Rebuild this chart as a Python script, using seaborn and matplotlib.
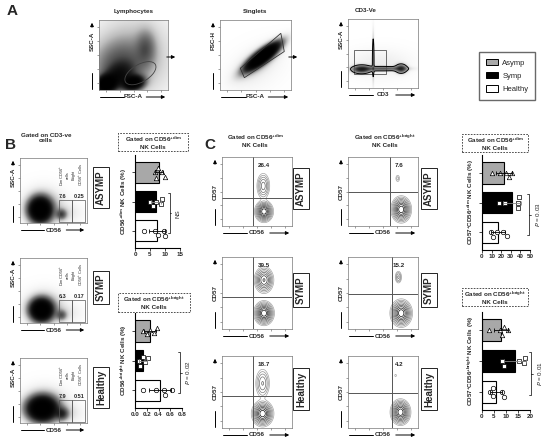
import numpy as np
import pandas as pd
import seaborn as sns
import matplotlib.pyplot as plt
import matplotlib.patches as mpatches
from matplotlib.lines import Line2D

sns.set_style("white")
plt.rcParams['font.family'] = ['Liberation Sans', 'DejaVu Sans']
plt.rcParams['mathtext.default'] = 'regular'

W, H = 550, 441

# ---------------- bar chart data ----------------
groups = ["Asymp", "Symp", "Healthy"]
bar_colors = ["#a8a8a8", "#000000", "#ffffff"]
group_markers = ["^", "s", "o"]

# B, CD56+dim NK cells (%)
b_dim = {"Asymp": [6.5, 7.0, 7.5, 9.0, 10.0],
         "Symp": [5.0, 6.0, 7.0, 8.5, 9.0],
         "Healthy": [3.0, 6.5, 7.5, 9.5, 10.0]}
# B, CD56+bright NK cells (%)
b_bright = {"Asymp": [0.13, 0.20, 0.25, 0.32, 0.37],
            "Symp": [0.06, 0.09, 0.13, 0.17, 0.22],
            "Healthy": [0.13, 0.36, 0.49, 0.51, 0.63]}
# C, CD57+CD56+dim NK cells (%)
c_dim = {"Asymp": [10, 19, 25, 28, 31],
         "Symp": [18, 24, 37, 38, 39],
         "Healthy": [9, 11, 16, 22, 26]}
# C, CD57+CD56+bright NK cells (%)
c_bright = {"Asymp": [3.0, 7.5, 8.2, 9.2, 11.0],
            "Symp": [8.5, 9.0, 15.5, 17.5, 18.0],
            "Healthy": [3.2, 4.4, 4.7, 8.2, 9.0]}

# ---------------- flow plot blobs: (cx, cy, sx, sy, angle, weight) ----------------
lymph_blobs = [(0.1, 0.08, 0.09, 0.07, 20, 3.0), (0.28, 0.2, 0.14, 0.1, 30, 1.0),
               (0.5, 0.1, 0.09, 0.06, 10, 2.5), (0.3, 0.35, 0.25, 0.22, 30, 0.5),
               (0.68, 0.6, 0.09, 0.16, 0, 0.4), (0.5, 0.5, 0.45, 0.45, 0, 0.2)]
singlet_blobs = [(0.6, 0.48, 0.17, 0.05, 38, 4.0), (0.55, 0.42, 0.22, 0.09, 38, 0.25),
                 (0.5, 0.3, 0.3, 0.2, 30, 0.05)]
cd3_blobs = [(0.19, 0.27, 0.08, 0.035, 0, 1.6), (0.36, 0.45, 0.008, 0.22, 0, 0.7),
             (0.5, 0.28, 0.2, 0.02, 0, 0.9), (0.76, 0.28, 0.05, 0.04, 0, 1.3),
             (0.45, 0.35, 0.3, 0.14, 0, 0.12)]
lymph_gate = (0.6, 0.24, 0.5, 0.25, 30)
singlet_gate = [(0.286, 0.31), (0.857, 0.81), (0.905, 0.55), (0.343, 0.176)]
cd3_gate = (0.08, 0.2, 0.46, 0.35)

b_rows = ["ASYMP", "SYMP", "Healthy"]
b_dim_pct = ["7.6", "6.3", "7.9"]
b_bright_pct = ["0.25", "0.17", "0.51"]
b_blobs = [[(0.3, 0.2, 0.1, 0.11, 0, 3.0), (0.35, 0.24, 0.18, 0.17, 0, 0.3),
            (0.62, 0.13, 0.05, 0.05, 0, 0.6), (0.72, 0.15, 0.15, 0.1, 0, 0.08)],
           [(0.32, 0.2, 0.1, 0.1, 0, 3.0), (0.36, 0.23, 0.18, 0.16, 0, 0.28),
            (0.62, 0.12, 0.05, 0.05, 0, 0.5), (0.72, 0.15, 0.15, 0.1, 0, 0.07)],
           [(0.33, 0.22, 0.13, 0.11, 0, 3.0), (0.37, 0.26, 0.2, 0.17, 0, 0.3),
            (0.63, 0.14, 0.06, 0.06, 0, 0.7), (0.72, 0.15, 0.15, 0.1, 0, 0.09)]]

c_dim_pct = ["26.4", "39.5", "18.7"]
c_bright_pct = ["7.6", "15.2", "4.2"]
c_dim_blobs = [[(0.6, 0.21, 0.055, 0.065, 0, 1.0), (0.59, 0.58, 0.045, 0.09, 0, 0.35)],
               [(0.6, 0.22, 0.06, 0.07, 0, 1.0), (0.6, 0.68, 0.06, 0.08, 0, 0.7)],
               [(0.58, 0.2, 0.065, 0.075, 0, 1.0), (0.58, 0.62, 0.05, 0.1, 0, 0.3)]]
c_bright_blobs = [[(0.76, 0.24, 0.06, 0.08, 0, 1.0), (0.71, 0.69, 0.02, 0.035, 0, 0.1)],
                  [(0.76, 0.22, 0.065, 0.08, 0, 1.0), (0.72, 0.72, 0.025, 0.045, 0, 0.22)],
                  [(0.75, 0.22, 0.06, 0.075, 0, 1.0), (0.68, 0.73, 0.015, 0.02, 0, 0.06)]]
c_dim_quad = [(0.44, 0.41), (0.44, 0.45), (0.44, 0.45)]
c_bright_quad = [(0.6, 0.49), (0.63, 0.49), (0.63, 0.49)]

contour_levels = [0.045, 0.08, 0.13, 0.2, 0.29, 0.4, 0.53, 0.68, 0.84]
contour_colors = plt.cm.Greys(np.linspace(0.45, 0.95, len(contour_levels)))


def rect(x0, y0, x1, y1):
    return [x0 / W, 1 - y1 / H, (x1 - x0) / W, (y1 - y0) / H]


def fx(x):
    return x / W


def fy(y):
    return 1 - y / H


fig = plt.figure(figsize=(5.5, 4.41), dpi=100)


def ftext(x, y, s, **kw):
    kw.setdefault('fontsize', 4.5)
    kw.setdefault('fontweight', 'bold')
    kw.setdefault('ha', 'center')
    kw.setdefault('va', 'center')
    fig.text(fx(x), fy(y), s, **kw)


def fline(xs, ys, lw=0.7):
    fig.add_artist(Line2D([fx(v) for v in xs], [fy(v) for v in ys], color='k', lw=lw,
                          transform=fig.transFigure))


def farrow(x0, y0, x1, y1):
    fig.add_artist(mpatches.FancyArrowPatch((fx(x0), fy(y0)), (fx(x1), fy(y1)),
                                            transform=fig.transFigure, arrowstyle='-|>',
                                            mutation_scale=5, lw=0.7, color='k'))


def density(blobs, n=240):
    g = np.linspace(0, 1, n)
    X, Y = np.meshgrid(g, g)
    Z = np.zeros_like(X)
    for cx, cy, sx, sy, ang, w in blobs:
        t = np.deg2rad(ang)
        dx, dy = X - cx, Y - cy
        u = dx * np.cos(t) + dy * np.sin(t)
        v = -dx * np.sin(t) + dy * np.cos(t)
        Z += w * np.exp(-0.5 * ((u / sx) ** 2 + (v / sy) ** 2))
    return X, Y, Z


def flow_axes(box, xlab, ylab, yfrac=0.3):
    x0, y0, x1, y1 = box
    ax = fig.add_axes(rect(*box))
    ax.set_xlim(0, 1)
    ax.set_ylim(0, 1)
    ax.set_xticks([0.1, 0.3, 0.5, 0.7, 0.9])
    ax.set_yticks([0.1, 0.3, 0.5, 0.7, 0.9])
    ax.set_xticklabels([])
    ax.set_yticklabels([])
    ax.tick_params(length=1.5, width=0.4, color='#555', bottom=True, left=True)
    for s in ax.spines.values():
        s.set_color('#777')
        s.set_linewidth(0.5)
    # axis labels with lines and arrows
    xc = (x0 + x1) / 2
    yb = y1 + 7
    ftext(xc, yb, xlab)
    fline([x0 + 1, xc - 10], [yb, yb])
    farrow(xc + 10, yb, x1, yb)
    xl = x0 - 7
    yc = y0 + yfrac * (y1 - y0)
    ftext(xl, yc, ylab, rotation=90)
    farrow(xl, y0 + 10, xl, y0)
    fline([xl, xl], [y1 - 1, y1 - 17])
    return ax


def dot_plot(ax, blobs, k=2.2):
    X, Y, Z = density(blobs)
    ax.imshow(1 - np.exp(-k * Z), origin='lower', extent=(0, 1, 0, 1), cmap='Greys',
              vmin=0, vmax=1, aspect='auto', interpolation='bilinear')
    return X, Y, Z


def contour_plot(ax, blobs):
    X, Y, Z = density(blobs)
    ax.contour(X, Y, Z, levels=contour_levels, colors=contour_colors, linewidths=0.5)


def boxed_label(x, y, s):
    ftext(x, y, s, rotation=90, fontsize=7,
          bbox=dict(boxstyle='square,pad=0.3', fc='white', ec='k', lw=0.6))


# ======================= Panel A =======================
ftext(12, 11, "A", fontsize=11)

ax = flow_axes((99, 20, 168, 90), "FSC-A", "SSC-A")
dot_plot(ax, lymph_blobs)
cx, cy, w, h, a = lymph_gate
ax.add_patch(mpatches.Ellipse((cx, cy), w, h, angle=a, fill=False, ec='#444', lw=0.6))
ftext(134, 11, "Lymphocytes")
farrow(164, 57, 178, 57)

ax = flow_axes((220, 20, 291, 90), "FSC-A", "FSC-H")
dot_plot(ax, singlet_blobs)
ax.add_patch(mpatches.Polygon(singlet_gate, closed=True, fill=False, ec='#333', lw=0.6))
ftext(255, 11, "Singlets")
farrow(286, 57, 300, 57)

ax = flow_axes((348, 19, 418, 88), "CD3", "SSC-A")
X, Y, Z = dot_plot(ax, cd3_blobs, k=1.3)
ax.contour(X, Y, Z, levels=[0.35], colors='k', linewidths=0.7)
gx, gy, gw, gh = cd3_gate
ax.add_patch(mpatches.Rectangle((gx, gy), gw, gh, fill=False, ec='#555', lw=0.6))
ftext(366, 11, "CD3-Ve")

handles = [mpatches.Patch(fc=c, ec='k', lw=0.7) for c in bar_colors]
fig.legend(handles, groups, loc='center', bbox_to_anchor=(fx(507), fy(76)), fontsize=5.5,
           frameon=True, fancybox=False, edgecolor='#444', handlelength=1.6,
           handleheight=0.9, labelspacing=0.7, borderpad=0.9, handletextpad=0.6)

# ======================= Panel B =======================
ftext(11, 145, "B", fontsize=11)
ftext(210, 145, "C", fontsize=11)
ftext(46, 138, "Gated on CD3-ve\ncells")

b_boxes = [(20, 158, 87, 223), (20, 258, 87, 323), (20, 358, 87, 423)]
for i, box in enumerate(b_boxes):
    ax = flow_axes(box, "CD56", "SSC-A")
    dot_plot(ax, b_blobs[i])
    ax.add_patch(mpatches.Rectangle((0.575, 0.02), 0.2, 0.33, fill=False, ec='#555', lw=0.5))
    ax.add_patch(mpatches.Rectangle((0.775, 0.02), 0.2, 0.33, fill=False, ec='#555', lw=0.5))
    ax.text(0.63, 0.41, b_dim_pct[i], transform=ax.transAxes, fontsize=4, fontweight='bold',
            ha='center', va='center')
    ax.text(0.88, 0.41, b_bright_pct[i], transform=ax.transAxes, fontsize=4, fontweight='bold',
            ha='center', va='center')
    ax.text(0.66, 0.74, "Dim CD56$^{+}$\ncells", transform=ax.transAxes, fontsize=2.8,
            rotation=90, ha='center', va='center')
    ax.text(0.87, 0.74, "Bright\nCD56$^{+}$ Cells", transform=ax.transAxes, fontsize=2.8,
            rotation=90, ha='center', va='center')
    boxed_label(101, (box[1] + box[3]) / 2 - 3, b_rows[i])


def dashed_title(x0, y0, x1, y1, s):
    fig.add_artist(mpatches.Rectangle((fx(x0), fy(y1)), fx(x1) - fx(x0), fy(y0) - fy(y1),
                                      transform=fig.transFigure, fill=False, ec='#333',
                                      lw=0.6, ls=(0, (2, 1.5))))
    ftext((x0 + x1) / 2, (y0 + y1) / 2, s)


def bar_panel(box, data, xmax, xticks, xticklabels, ylabel, bx, ptext, px):
    ax = fig.add_axes(rect(*box))
    df = pd.DataFrame({"group": [g for g in groups for _ in data[g]],
                       "value": [v for g in groups for v in data[g]]})
    sns.barplot(data=df, x="value", y="group", hue="group", order=groups, hue_order=groups,
                palette=bar_colors, errorbar=None, width=0.72, edgecolor='k', linewidth=0.8,
                legend=False, ax=ax)
    for i, (g, m) in enumerate(zip(groups, group_markers)):
        sub = df[df.group == g]
        sns.swarmplot(data=sub, x="value", y="group", order=groups, marker=m, size=3.2,
                      color='white', edgecolor='k', linewidth=0.5, ax=ax)
        ax.errorbar(sub.value.mean(), i, xerr=sub.value.std(), fmt='none',
                    ecolor='#888' if g == "Symp" else 'k', elinewidth=0.6, capsize=1.5,
                    capthick=0.6, zorder=5)
    ax.set_xlim(0, xmax)
    ax.set_ylim(2.6, -0.6)
    ax.set_yticks([0, 1, 2])
    ax.set_yticklabels([])
    ax.set_xticks(xticks)
    ax.set_xticklabels(xticklabels, fontsize=4.5, fontweight='bold')
    ax.tick_params(axis='both', length=2, width=0.6, pad=1, bottom=True, left=True)
    ax.set_xlabel("")
    ax.set_ylabel(ylabel, fontsize=4.5, fontweight='bold', labelpad=1)
    sns.despine(ax=ax)
    for s in ("left", "bottom"):
        ax.spines[s].set_linewidth(0.8)
        ax.spines[s].set_color('k')
    d = xmax * 0.04
    ax.plot([bx - d, bx, bx, bx - d], [0.72, 0.72, 2.1, 2.1], color='k', lw=0.5, clip_on=False)
    ax.plot([bx, bx + d], [1.41, 1.41], color='k', lw=0.5, clip_on=False)
    ax.text(px, 1.41, ptext, rotation=90, fontsize=4.5, ha='center', va='center')
    return ax


dashed_title(118, 133, 188, 151, "Gated on CD56$^{+dim}$\nNK Cells")
bar_panel((135, 155, 180, 248), b_dim, 15, [0, 5, 10, 15], ["0", "5", "10", "15"],
          "CD56$^{+dim}$ NK Cells (%)", 11.5, "NS", 14.5)

dashed_title(118, 293, 190, 312, "Gated on CD56$^{+bright}$\nNK Cells")
bar_panel((135, 313, 182, 408), b_bright, 0.8, [0, 0.2, 0.4, 0.6, 0.8],
          ["0.0", "0.2", "0.4", "0.6", "0.8"], "CD56$^{+bright}$ NK Cells (%)", 0.76,
          "$\\it{P}$ = 0.02", 0.9)

# ======================= Panel C =======================
ftext(255, 140, "Gated on CD56$^{+dim}$\nNK Cells")
ftext(385, 140, "Gated on CD56$^{+bright}$\nNK Cells")

c_rows_y = [(157, 226), (257, 329), (356, 428)]
for i, (y0, y1) in enumerate(c_rows_y):
    ax = flow_axes((222, y0, 292, y1), "CD56", "CD57", yfrac=0.5)
    contour_plot(ax, c_dim_blobs[i])
    qx, qy = c_dim_quad[i]
    ax.axvline(qx, color='#555', lw=0.7)
    ax.axhline(qy, color='#555', lw=0.7)
    ax.text(0.6, 0.88, c_dim_pct[i], transform=ax.transAxes, fontsize=4.5, fontweight='bold',
            ha='center', va='center')
    boxed_label(301, (y0 + y1) / 2 - 3, b_rows[i])

    ax = flow_axes((348, y0, 418, y1), "CD56", "CD57", yfrac=0.5)
    contour_plot(ax, c_bright_blobs[i])
    qx, qy = c_bright_quad[i]
    ax.axvline(qx, color='#555', lw=0.7)
    ax.axhline(qy, color='#555', lw=0.7)
    ax.text(0.73, 0.88, c_bright_pct[i], transform=ax.transAxes, fontsize=4.5,
            fontweight='bold', ha='center', va='center')
    boxed_label(429, (y0 + y1) / 2 - 3, b_rows[i])

dashed_title(462, 134, 528, 152, "Gated on CD56$^{+dim}$\nNK Cells")
bar_panel((482, 155, 530, 250), c_dim, 50, [0, 10, 20, 30, 40, 50],
          ["0", "10", "20", "30", "40", "50"], "CD57$^{+}$CD56$^{+dim}$ NK Cells (%)", 49,
          "$\\it{P}$ = 0.03", 58)

dashed_title(462, 288, 528, 306, "Gated on CD56$^{+bright}$\nNK Cells")
bar_panel((482, 312, 530, 410), c_bright, 20, [0, 5, 10, 15, 20],
          ["0", "5", "10", "15", "20"], "CD57$^{+}$CD56$^{+bright}$ NK Cells (%)", 20.5,
          "$\\it{P}$ = 0.01", 24)

fig.savefig("out.png", dpi=100)
